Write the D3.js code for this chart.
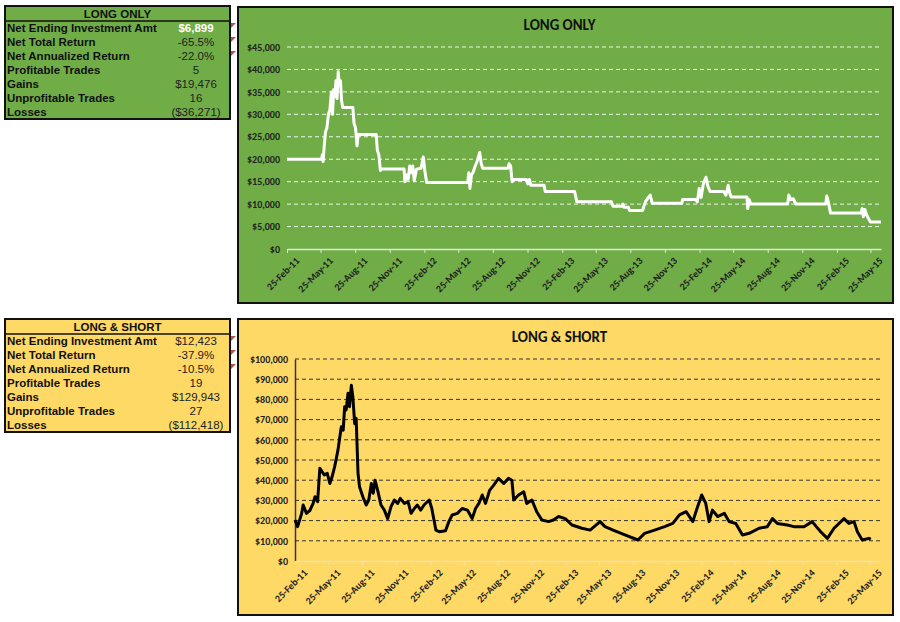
<!DOCTYPE html>
<html><head><meta charset="utf-8">
<script src="https://cdn.jsdelivr.net/npm/d3@7"></script>
<style>body{margin:0;background:#fff;font-family:"Liberation Sans",Arial,sans-serif}</style>
</head><body>
<svg id="c" width="900" height="622"></svg>
<script>
// ---- data ----
const startDate = new Date(2011, 1, 25);
const tickLabels = ["25-Feb-11","25-May-11","25-Aug-11","25-Nov-11","25-Feb-12","25-May-12","25-Aug-12","25-Nov-12","25-Feb-13","25-May-13","25-Aug-13","25-Nov-13","25-Feb-14","25-May-14","25-Aug-14","25-Nov-14","25-Feb-15","25-May-15"];
// days since 25-Feb-11 and value
const longDays = [0,92,94,96,98,102,106,110,114,118,121,124,127,130,133,136,139,142,145,148,175,178,182,186,189,237,240,244,248,251,311,313,318,322,326,330,334,338,344,356,362,366,371,480,483,486,490,494,500,505,512,516,520,587,590,594,598,602,636,640,644,648,683,686,764,770,862,866,890,892,895,907,910,945,948,952,960,965,970,1049,1051,1085,1090,1095,1100,1106,1113,1118,1124,1160,1166,1172,1176,1180,1222,1224,1228,1232,1330,1333,1338,1345,1352,1431,1434,1438,1444,1525,1528,1531,1535,1540,1550,1578];
const longVals = [20000,20000,21000,19500,22000,26000,27000,30000,31000,35000,30000,35500,34000,37500,33500,39500,36500,37500,33000,31500,31500,28000,27000,23000,25500,25500,22000,21000,17500,17800,17800,15000,16500,15500,18500,17000,18500,15200,17800,18000,20500,17500,14800,14800,17000,13500,16500,17000,18500,19500,21500,19000,18000,18000,19000,18500,15000,15500,15500,14500,15500,14200,14200,12800,12800,10500,10500,9500,9500,10000,9300,9300,8600,8600,9500,10500,11500,12000,10200,10200,11000,11000,10500,13500,11500,14500,16000,14000,12800,12800,12000,14200,12500,11600,11600,9000,11000,10000,10000,12000,11000,11200,10000,10000,11800,10500,8000,8000,9000,7200,8800,7500,6000,6000];
const lsDays = [0,7,18,22,31,40,49,54,61,67,79,87,94,100,107,116,121,125,130,134,138,143,147,152,156,161,165,170,174,183,192,199,206,211,216,223,232,241,250,259,268,277,284,295,305,313,322,330,339,348,362,369,380,389,406,415,424,438,451,465,478,487,496,505,514,525,536,549,563,576,585,590,603,617,625,639,652,666,684,697,711,729,747,774,796,823,836,858,890,925,943,970,997,1019,1037,1055,1073,1086,1097,1108,1117,1126,1140,1158,1171,1189,1207,1225,1252,1274,1288,1301,1328,1346,1373,1395,1418,1436,1454,1481,1494,1508,1517,1530,1548,1553];
const lsVals = [20300,17000,23600,27700,23600,25000,28500,31800,29400,45900,42600,43400,38400,41700,46700,55000,61500,66500,64800,76400,74800,83000,76400,87000,81400,68000,70600,43400,36800,31800,27700,30200,38400,33500,40000,35000,27700,25200,21000,26900,30200,28500,31000,28500,29400,23600,26000,27700,25200,27700,30200,26000,15300,14500,15000,19500,22800,23600,26000,25200,21000,26000,28500,32700,28500,35000,37600,40900,38400,40900,40000,30200,32700,34300,28500,30200,24400,20300,19500,20300,22000,21000,17800,16200,15300,19500,17000,15300,12900,10400,13700,15300,17000,18600,22800,24400,19500,26900,32700,28500,19500,25200,22000,23600,19500,18600,12900,13700,16200,17000,21000,18600,17800,17000,17000,19500,14500,11200,16200,21000,18600,19500,14500,10400,11200,10700];
const longStats = [["Net Ending Investment Amt","$6,899"],["Net Total Return","-65.5%"],["Net Annualized Return","-22.0%"],["Profitable Trades","5"],["Gains","$19,476"],["Unprofitable Trades","16"],["Losses","($36,271)"]];
const lsStats = [["Net Ending Investment Amt","$12,423"],["Net Total Return","-37.9%"],["Net Annualized Return","-10.5%"],["Profitable Trades","19"],["Gains","$129,943"],["Unprofitable Trades","27"],["Losses","($112,418)"]];
const longTicks = [0,5000,10000,15000,20000,25000,30000,35000,40000,45000];
const lsTicks = [0,10000,20000,30000,40000,50000,60000,70000,80000,90000,100000];

const svg = d3.select("#c");
const parse = d3.timeParse("%d-%b-%y");
const tickDates = tickLabels.map(parse);
const fmtMoney = d => "$" + d3.format(",")(d);

function table(y0, title, rows, bg, firstWhite) {
  const g = svg.append("g");
  const x0 = 5, w = 225, hh = 15, rh = 14;
  g.append("rect").attr("x",x0).attr("y",y0).attr("width",w).attr("height",hh+rh*rows.length)
   .attr("fill",bg).attr("stroke","#111").attr("stroke-width",2);
  g.append("line").attr("x1",x0).attr("x2",x0+w).attr("y1",y0+hh).attr("y2",y0+hh).attr("stroke","#111").attr("stroke-width",1.5);
  g.append("text").attr("x",x0+w/2).attr("y",y0+11.5).attr("text-anchor","middle")
   .attr("font-size",11.5).attr("font-weight","bold").attr("fill","#111").text(title);
  rows.forEach((r,i)=>{
    const y = y0+hh+rh*(i+1)-3;
    g.append("text").attr("x",x0+2).attr("y",y).attr("font-size",11.5).attr("font-weight","bold").attr("fill","#111").text(r[0]);
    g.append("text").attr("x",196).attr("y",y).attr("text-anchor","middle").attr("font-size",11.5)
     .attr("font-weight", (i===0&&firstWhite)?"bold":"normal")
     .attr("fill",(i===0&&firstWhite)?"#fff":"#222").text(r[1]);
    if (i<3) g.append("path").attr("d",`M${x0+w+1},${y0+hh+rh*i+2}l5,0l-5,5z`).attr("fill","#c0504d");
  });
}
table(6, "LONG ONLY", longStats, "#70ad47", true);
table(319, "LONG & SHORT", lsStats, "#ffd966", false);

function chart(o) {
  const g = svg.append("g");
  g.append("rect").attr("x",o.bx).attr("y",o.by).attr("width",o.bw).attr("height",o.bh)
   .attr("fill",o.bg).attr("stroke","#111").attr("stroke-width",2);
  g.append("text").attr("x",o.bx+o.bw/2-6).attr("y",o.by+23).attr("text-anchor","middle")
   .attr("font-family","Carlito,'Liberation Sans',Arial").attr("font-size",15).attr("font-weight","bold").attr("fill","#111").text(o.title);
  const x = d3.scaleTime().domain([startDate, d3.timeDay.offset(startDate,1578)]).range([o.x0,o.x1]);
  const y = d3.scaleLinear().domain([0,o.max]).range([o.y0,o.y1]);
  const grid = g.append("g");
  o.ticks.forEach(t=>{
    if (t>0) grid.append("line").attr("x1",o.x0).attr("x2",o.x1).attr("y1",y(t)).attr("y2",y(t))
      .attr("stroke",o.grid).attr("stroke-width",1).attr("stroke-dasharray","4,3");
  });
  const ya = g.append("g").attr("transform",`translate(${o.x0},0)`)
    .call(d3.axisLeft(y).tickValues(o.ticks).tickFormat(fmtMoney).tickSize(0).tickPadding(7));
  ya.select(".domain").attr("stroke",o.yaxis).attr("stroke-width",o.yaxis==="none"?0:1.5);
  ya.selectAll("text").attr("font-size",10).attr("font-weight","bold").attr("fill","#222").attr("font-family","Carlito,'Liberation Sans',Arial");
  const xa = g.append("g").attr("transform",`translate(0,${o.y0})`)
    .call(d3.axisBottom(x).tickValues(tickDates).tickFormat((d,i)=>tickLabels[i]).tickSize(4).tickSizeOuter(0));
  xa.select(".domain").attr("stroke",o.xaxis).attr("stroke-width",1.5);
  xa.selectAll("line").attr("stroke",o.xaxis);
  xa.selectAll("text").attr("font-size",10).attr("font-weight","bold").attr("fill","#222")
    .attr("font-family","Carlito,'Liberation Sans',Arial")
    .attr("text-anchor","end").attr("transform","translate(4,4) rotate(-45)").attr("dy","0.5em");
  const data = o.days.map((d,i)=>[d3.timeDay.offset(startDate,d), o.vals[i]]);
  g.append("path").datum(data).attr("fill","none").attr("stroke",o.line).attr("stroke-width",3)
   .attr("stroke-linejoin","round").attr("d",d3.line().x(d=>x(d[0])).y(d=>y(d[1])));
}
chart({bx:238,by:7,bw:655,bh:296,bg:"#70ad47",title:"LONG ONLY",x0:287,x1:881,y0:249,y1:47,max:45000,
  ticks:longTicks,grid:"#eef5e8",yaxis:"none",xaxis:"#dbe9d0",line:"#ffffff",days:longDays,vals:longVals});
chart({bx:238,by:319,bw:655,bh:296,bg:"#ffd966",title:"LONG & SHORT",x0:295,x1:880,y0:561,y1:359,max:100000,
  ticks:lsTicks,grid:"#333",yaxis:"#333",xaxis:"#f3e2a6",line:"#000000",days:lsDays,vals:lsVals});
</script>
</body></html>
